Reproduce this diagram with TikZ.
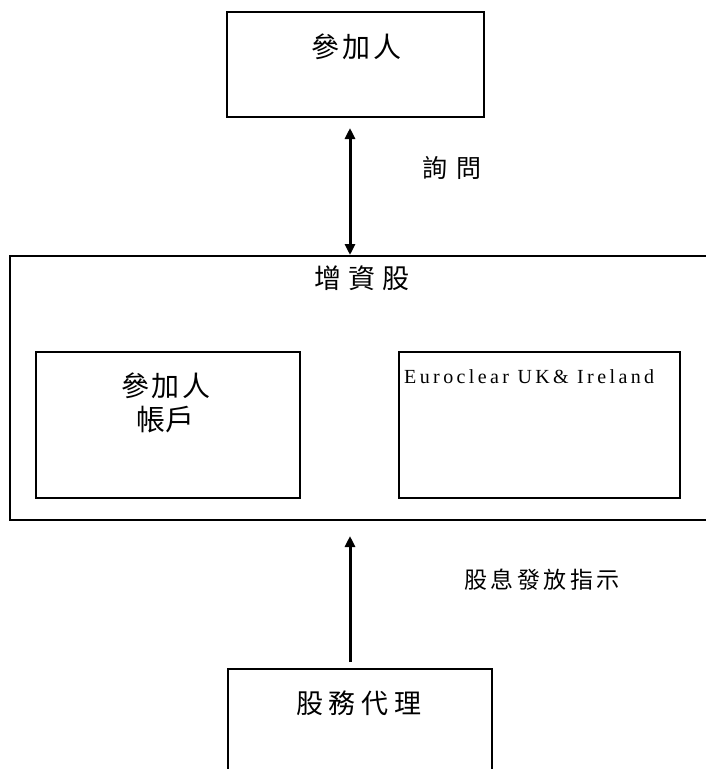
\documentclass[tikz,border=0pt]{standalone}
\usepackage{fontspec}
\setmainfont{Liberation Serif}
\newfontfamily\cjkfont{Noto Sans CJK TC}
\newfontfamily\eurofont[LetterSpace=17]{Liberation Serif}
\usetikzlibrary{arrows.meta}
\tikzset{
  box/.style={draw=black, line width=2pt, rectangle, inner sep=0pt},
  lbl/.style={inner sep=0pt, anchor=west},
  conn/.style={line width=3pt}
}
\newcommand{\cjksz}[2]{\cjkfont\fontsize{#1pt}{#1pt}\selectfont\addfontfeature{LetterSpace=#2}}
\begin{document}
\begin{tikzpicture}[x=1pt,y=-1pt]
\useasboundingbox (0,0) rectangle (706,769);
% boxes
\node[box, minimum width=257pt, minimum height=105pt] (top) at (355.5,64.5) {};
\node[box, minimum width=750pt, minimum height=264pt] (big) at (385,388) {};
\node[box, minimum width=264pt, minimum height=146pt] (acct) at (168,425) {};
\node[box, minimum width=281pt, minimum height=146pt] (euro) at (539.5,425) {};
\node[box, minimum width=264pt, minimum height=151pt] (agent) at (360,744.5) {};
% labels
\node[lbl, font={\cjksz{28}{12}}] (t1) at (311,46.5) {參加人};
\node[lbl, font={\cjksz{25}{36}}] (t2) at (422,167.5) {詢問};
\node[lbl, font={\cjksz{27}{27}}] (t3) at (314,278.5) {增資股};
\node[lbl, font={\cjksz{28}{9}}] (t4) at (121,385.5) {參加人};
\node[lbl, font={\cjksz{29}{0}}] (t5) at (136,420) {帳戶};
\node[inner sep=0pt, anchor=base west, font={\eurofont\fontsize{20pt}{22pt}\selectfont}] (t6) at (404,383) {Euroclear UK\& Ireland};
\node[lbl, font={\cjksz{23}{15}}] (t7) at (464,580) {股息發放指示};
\node[lbl, font={\cjksz{27}{21}}] (t8) at (296,703.5) {股務代理};
% connectors
\coordinate (ax) at (350,0);
\draw[conn, {Triangle[width=10pt,length=11pt]}-{Triangle[width=10pt,length=11pt]}, shorten >=10pt] (big.north -| ax) -- (top.south -| ax);
\draw[conn, -{Triangle[width=10pt,length=11pt]}, shorten <=6pt, shorten >=15pt] (agent.north -| ax) -- (big.south -| ax);
\end{tikzpicture}
\end{document}
